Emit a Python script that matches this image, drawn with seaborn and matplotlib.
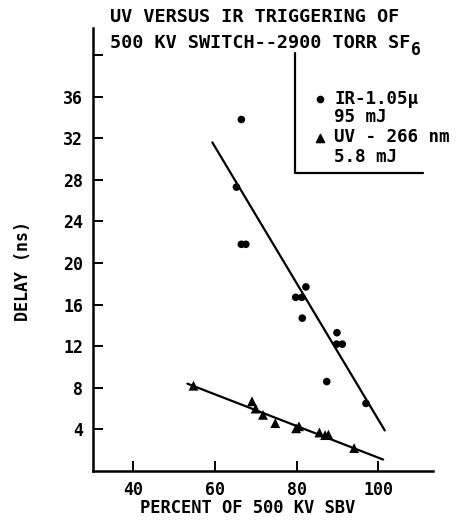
import matplotlib
matplotlib.use("Agg")
import matplotlib.pyplot as plt
import seaborn as sns
import pandas as pd

# IR (1.05 micron) shots
ir_pct = [66.5, 65.3, 66.5, 67.6, 82.3, 79.8, 81.3, 81.4, 89.9, 89.8, 91.2, 87.4, 97.0]
ir_delay = [33.8, 27.3, 21.8, 21.8, 17.7, 16.7, 16.7, 14.7, 13.3, 12.2, 12.2, 8.6, 6.5]

# UV (266 nm) shots
uv_pct = [54.8, 69.1, 70.0, 71.8, 74.8, 79.9, 80.6, 85.6, 87.0, 87.8, 94.1]
uv_delay = [8.2, 6.7, 6.0, 5.4, 4.6, 4.1, 4.3, 3.7, 3.45, 3.5, 2.2]

# hand drawn fit lines (end points)
ir_fit_x = [59.4, 101.6]
ir_fit_y = [31.6, 3.9]
uv_fit_x = [53.3, 101.2]
uv_fit_y = [8.4, 1.1]

x_ticks = [40, 60, 80, 100]
y_ticks = [4, 8, 12, 16, 20, 24, 28, 32, 36, 40]
y_labels = ["4", "8", "12", "16", "20", "24", "28", "32", "36", ""]

ir = pd.DataFrame({"pct": ir_pct, "delay": ir_delay})
uv = pd.DataFrame({"pct": uv_pct, "delay": uv_delay})

sns.set_style("ticks")
plt.rcParams["font.family"] = ["DejaVu Sans Mono", "DejaVu Sans"]
plt.rcParams["font.weight"] = "bold"
plt.rcParams["text.color"] = "black"

fig = plt.figure(figsize=(4.71, 5.23), dpi=100)
ax = fig.add_axes([93 / 471, 1 - 471 / 523, 340 / 471, 443 / 523])

sns.lineplot(x=ir_fit_x, y=ir_fit_y, ax=ax, color="black", lw=1.6)
sns.lineplot(x=uv_fit_x, y=uv_fit_y, ax=ax, color="black", lw=1.6)
sns.scatterplot(data=ir, x="pct", y="delay", ax=ax, marker="o", s=30,
                color="black", edgecolor="none", zorder=3)
sns.scatterplot(data=uv, x="pct", y="delay", ax=ax, marker="^", s=50,
                color="black", edgecolor="none", zorder=3)

ax.set_xlim(30.2, 113.4)
ax.set_ylim(0, 42.6)
ax.set_xticks(x_ticks)
ax.set_yticks(y_ticks)
ax.set_yticklabels(y_labels)
ax.set_xlabel("")
ax.set_ylabel("")
sns.despine(ax=ax)
for s in ["left", "bottom"]:
    ax.spines[s].set_linewidth(1.8)
    ax.spines[s].set_color("black")
ax.tick_params(direction="in", length=7, width=1.4, labelsize=12, pad=7,
               colors="black")

# legend box drawn by hand like the original
ax.plot([0.594, 0.594, 0.971], [0.944, 0.673, 0.673], color="black", lw=1.6,
        transform=ax.transAxes, clip_on=False)
ax.scatter([0.668], [0.839], marker="o", s=20, color="black", transform=ax.transAxes)
ax.scatter([0.668], [0.752], marker="^", s=35, color="black", transform=ax.transAxes)
leg_txt = [("IR-1.05μ", 0.839), ("95 mJ", 0.799), ("UV - 266 nm", 0.754), ("5.8 mJ", 0.709)]
for t, yy in leg_txt:
    ax.text(0.71, yy, t, transform=ax.transAxes, fontsize=12.6, va="center", ha="left")

fig.text(110 / 471, 1 - 17 / 523, "UV VERSUS IR TRIGGERING OF", fontsize=13.3,
         va="center", ha="left")
t2 = fig.text(110 / 471, 1 - 43 / 523, "500 KV SWITCH--2900 TORR SF", fontsize=13.3,
              va="center", ha="left")
# subscript 6 placed right after the title text
fig.canvas.draw()
bb = t2.get_window_extent()
fig.text(bb.x1 / fig.bbox.width + 0.002, 1 - 50 / 523, "6", fontsize=12,
         va="center", ha="left")
fig.text(23 / 471, 1 - 271 / 523, "DELAY (ns)", rotation=90, fontsize=12,
         va="center", ha="center")
fig.text(248 / 471, 1 - 508 / 523, "PERCENT OF 500 KV SBV", fontsize=12.3,
         va="center", ha="center")

fig.savefig("out.png", dpi=100)
